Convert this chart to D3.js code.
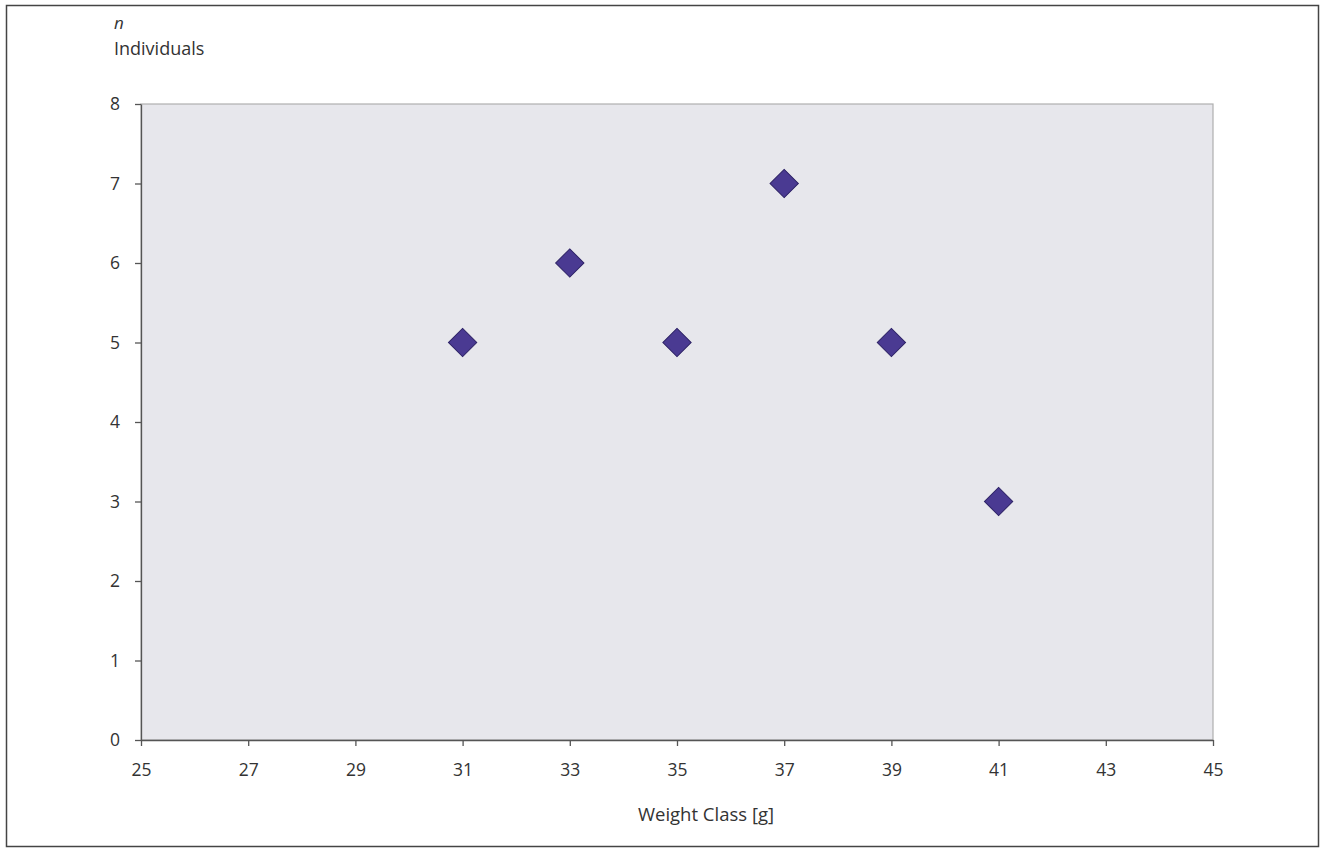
<!DOCTYPE html>
<html><head><meta charset="utf-8">
<script src="https://cdn.jsdelivr.net/npm/d3@7"></script>
<style>body{margin:0;background:#fff;} text{font-family:"Open Sans","Noto Sans",sans-serif;fill:#333;}</style>
</head><body>
<svg id="c" width="1321" height="850"></svg>
<script>
const weightClass = [31, 33, 35, 37, 39, 41];
const individuals = [5, 6, 5, 7, 5, 3];
const xTicks = [25, 27, 29, 31, 33, 35, 37, 39, 41, 43, 45];
const yTicks = [0, 1, 2, 3, 4, 5, 6, 7, 8];

const svg = d3.select("#c");
const L = 141, R = 1213, T = 104, B = 740;
const x = d3.scaleLinear().domain([25, 45]).range([L, R]);
const y = d3.scaleLinear().domain([0, 8]).range([B, T]);

// outer frame
svg.append("rect").attr("x", 6.5).attr("y", 5.5).attr("width", 1312).attr("height", 841)
  .attr("fill", "#fff").attr("stroke", "#444").attr("stroke-width", 1.5);

// plot area
svg.append("rect").attr("x", L).attr("y", T).attr("width", R - L).attr("height", B - T)
  .attr("fill", "#e7e7ec").attr("stroke", "#b0b0b0").attr("stroke-width", 1.2);

const xAxis = svg.append("g").attr("transform", `translate(0,${B})`)
  .call(d3.axisBottom(x).tickValues(xTicks).tickSizeOuter(0).tickSizeInner(6).tickPadding(18));
const yAxis = svg.append("g").attr("transform", `translate(${L},0)`)
  .call(d3.axisLeft(y).tickValues(yTicks).tickSizeOuter(0).tickSizeInner(6).tickPadding(15));
[xAxis, yAxis].forEach(a => {
  a.selectAll("path,line").attr("stroke", "#555").attr("stroke-width", 1.3);
  a.selectAll("text").style("font-family", '"Open Sans","Noto Sans",sans-serif')
    .style("font-size", "17.5px").attr("fill", "#333");
});

// points
svg.append("g").selectAll("path").data(weightClass).join("path")
  .attr("transform", (d, i) => `translate(${x(d)},${y(individuals[i])}) rotate(45)`)
  .attr("d", d3.symbol().type(d3.symbolSquare).size(400))
  .attr("fill", "#4a3a92").attr("stroke", "#2e2366").attr("stroke-width", 1);

// labels
svg.append("text").attr("x", 114).attr("y", 29).style("font-style", "italic").style("font-size", "17px").text("n");
svg.append("text").attr("x", 114).attr("y", 55).style("font-size", "18px").text("Individuals");
svg.append("text").attr("x", 706).attr("y", 821).attr("text-anchor", "middle")
  .style("font-size", "18.5px").text("Weight Class [g]");
</script>
</body></html>
